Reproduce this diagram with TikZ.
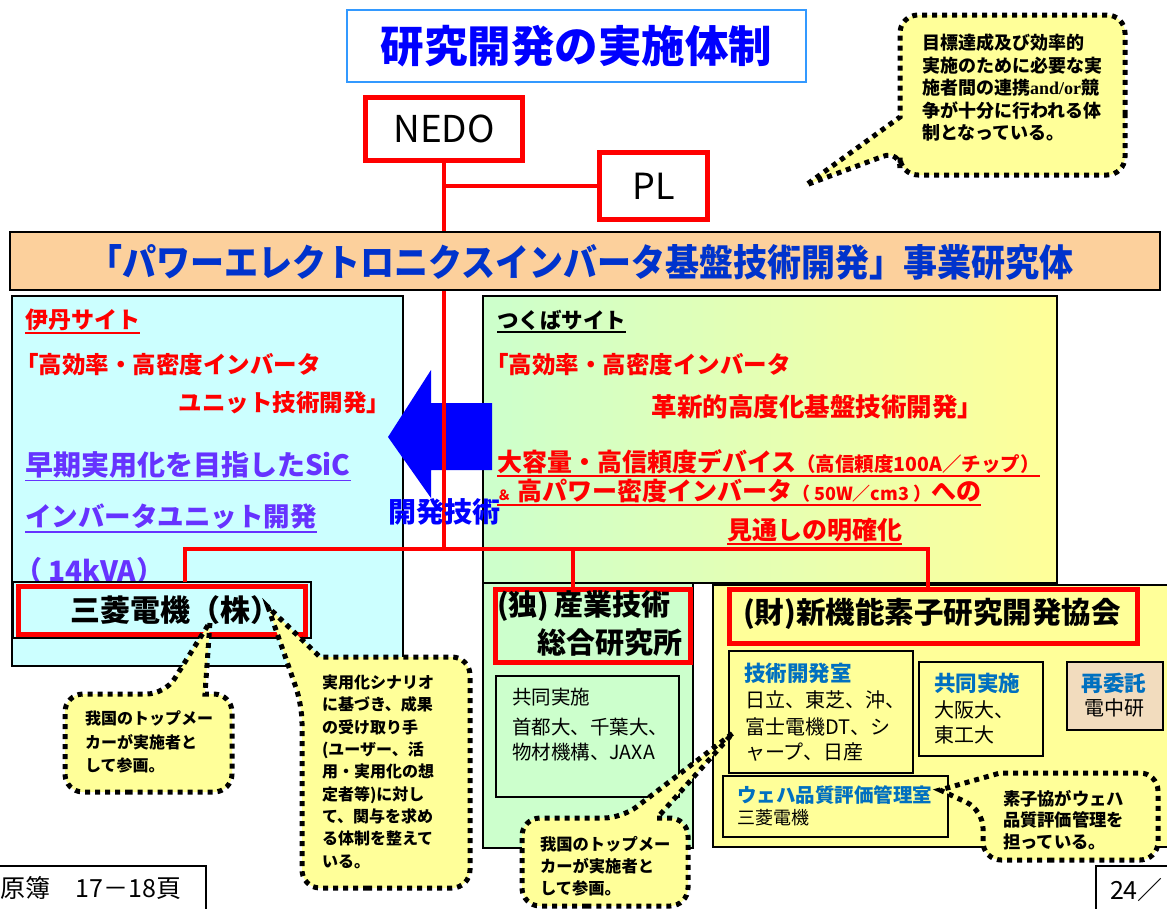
\documentclass[tikz,border=0pt]{standalone}
\usepackage{fontspec}
\setmainfont{Noto Sans CJK JP}
\newfontfamily\latinserif{Liberation Serif}
\newcommand\fsz[2]{\fontsize{#1pt}{#2pt}\selectfont}

\definecolor{cyanbox}{RGB}{204,255,255}
\definecolor{greenbox}{RGB}{204,255,204}
\definecolor{yellowbox}{RGB}{255,255,153}
\definecolor{peach}{RGB}{252,208,156}
\definecolor{calloutfill}{RGB}{255,255,153}
\definecolor{sicviolet}{RGB}{102,51,255}
\definecolor{bannerblue}{RGB}{0,51,204}
\definecolor{roomblue}{RGB}{0,112,192}
\definecolor{titleframe}{RGB}{51,153,255}
\definecolor{titleblue}{RGB}{0,0,255}
\definecolor{arrowblue}{RGB}{0,0,255}
\definecolor{tanfill}{RGB}{242,220,190}

\newcommand\ulnode[2]{\draw[#2, line width=1.6pt] ([yshift=-2pt]#1.south west) -- ([yshift=-2pt]#1.south east);}

\begin{document}
\begin{tikzpicture}[x=1pt,y=-1pt,
  txt/.style={inner sep=0, outer sep=0, anchor=west},
  panel/.style={draw=black, line width=1.2pt, inner sep=0, outer sep=0},
  redbox/.style={draw=red, line width=5pt, inner sep=0, outer sep=0},
  redline/.style={red, line width=4pt},
  callout/.style={fill=calloutfill, draw=black, line width=5pt, dash pattern=on 5pt off 5pt},
  calltext/.style={inner sep=0, outer sep=0, anchor=north west, align=left, font=\bfseries},
  bodytext/.style={txt, font=\fsz{20}{24}},
  roomtitle/.style={txt, text=roomblue, font=\fsz{21.5}{26}\bfseries}]

\path[use as bounding box, fill=white] (0,0) rectangle (1167,908);

% heading
\node[draw=titleframe, line width=1.5pt, minimum width=459, minimum height=72, inner sep=0,
      font=\fsz{43.5}{50}\bfseries, text=titleblue] (title) at (576.5,46) {研究開発の実施体制};

% NEDO and PL
\node[redbox, fill=white, minimum width=157, minimum height=63, font=\fsz{37}{44}] (nedo) at (444,129) {NEDO};
\node[redbox, fill=white, minimum width=108, minimum height=67, font=\fsz{36}{44}] (pl) at (653.5,186) {PL};

% Itami site panel
\node[panel, fill=cyanbox, minimum width=391, minimum height=370] (itami) at (207.5,481) {};
\node[txt, text=red, font=\fsz{23}{28}\bfseries] (itaminame) at (25,320) {伊丹サイト};
\ulnode{itaminame}{red}
\node[txt, text=red, font=\fsz{23.5}{28}\bfseries] (itamigoal1) at (15,365) {「高効率・高密度インバータ};
\node[txt, anchor=east, text=red, font=\fsz{23.5}{28}\bfseries] (itamigoal2) at (390,403) {ユニット技術開発」};
\node[txt, text=sicviolet, font=\fsz{28}{34}\bfseries] (sic1) at (25,465) {早期実用化を目指したSiC};
\ulnode{sic1}{sicviolet}
\node[txt, text=sicviolet, font=\fsz{26.5}{32}\bfseries] (sic2) at (25,517) {インバータユニット開発};
\ulnode{sic2}{sicviolet}
\node[txt, text=sicviolet, font=\fsz{28}{34}\bfseries] (sic3) at (14,571) {（ 14kVA）};

% Tsukuba site panel
\node[panel, left color=greenbox, right color=yellowbox, minimum width=574, minimum height=287] (tsukuba) at (770,439.5) {};
\node[txt, font=\fsz{21.5}{26}\bfseries] (tsukubaname) at (497,320) {つくばサイト};
\ulnode{tsukubaname}{black}
\node[txt, text=red, font=\fsz{23.5}{28}\bfseries] (tk1) at (485,365) {「高効率・高密度インバータ};
\node[txt, anchor=east, text=red, font=\fsz{25.5}{30}\bfseries] (tk2) at (983,407) {革新的高度化基盤技術開発」};
\node[txt, text=red, font=\fsz{25}{30}\bfseries] (tk3) at (497,462) {大容量・高信頼度デバイス{\fsz{19.5}{24}（高信頼度100A／チップ）}};
\ulnode{tk3}{red}
\node[txt, text=red, font=\fsz{25}{30}\bfseries] (tk4) at (497,491) {{\fsz{14}{17}＆}\hspace{6pt}高パワー密度インバータ{\fsz{18}{22}（ 50W／cm3 ）}への};
\ulnode{tk4}{red}
\node[txt, text=red, font=\fsz{25}{30}\bfseries] (tk5) at (727,530) {見通しの明確化};
\ulnode{tk5}{red}

% transfer arrow between the sites
\fill[arrowblue] (492,403) -- (431,403) -- (431,370) -- (388,437) -- (431,498) -- (431,470) -- (492,470) -- cycle;

% Mitsubishi Electric
\node[panel, fill=cyanbox, minimum width=298, minimum height=56] (mitsuframe) at (162,610) {};
\node[redbox, fill=cyanbox, minimum width=287, minimum height=48] (mitsu) at (161.5,610) {};
\node[txt, font=\fsz{30}{36}\bfseries] (mitsutext) at (70,610) {三菱電機（株）};

% AIST
\node[panel, fill=greenbox, minimum width=210, minimum height=265] (aist) at (588,715.5) {};
\node[redbox, fill=greenbox, minimum width=195, minimum height=73] (aistname) at (593,626) {};
\node[txt, font=\fsz{29}{35}\bfseries] (aist1) at (497,606) {(独)\,産業技術};
\node[txt, font=\fsz{29}{35}\bfseries] (aist2) at (537,643) {総合研究所};
\node[panel, minimum width=183, minimum height=121] (aistjoint) at (587.5,736.5) {};
\node[txt, font=\fsz{19.5}{24}] (aj1) at (512,697) {共同実施};
\node[txt, font=\fsz{19.5}{24}] (aj2) at (512,727) {首都大、千葉大、};
\node[txt, font=\fsz{19.5}{24}] (aj3) at (512,752) {物材機構、JAXA};

% R&D Association for Future Electron Devices
\node[panel, fill=yellowbox, minimum width=460, minimum height=262] (zaidan) at (943,716) {};
\node[redbox, fill=yellowbox, minimum width=408, minimum height=54] (zaidanred) at (933.5,616.5) {};
\node[txt, font=\fsz{29.5}{35}\bfseries] (zaidantext) at (743,614) {(財)新機能素子研究開発協会};

\node[panel, minimum width=184, minimum height=122] (gijutsu) at (821,712) {};
\node[roomtitle] (g0) at (744,673) {技術開発室};
\node[bodytext] (g1) at (745,700) {日立、東芝、沖、};
\node[bodytext] (g2) at (745,727) {富士電機DT、シ};
\node[bodytext] (g3) at (745,752) {ャープ、日産};

\node[panel, minimum width=124, minimum height=94] (kyodo) at (981,709) {};
\node[roomtitle] (k0) at (934,683) {共同実施};
\node[bodytext] (k1) at (934,710) {大阪大、};
\node[bodytext] (k2) at (934,735) {東工大};

\node[panel, fill=tanfill, minimum width=96, minimum height=68] (saiitaku) at (1115,696) {};
\node[roomtitle, anchor=center] (s0) at (1114,683) {再委託};
\node[bodytext, anchor=center] (s1) at (1114,708) {電中研};

\node[panel, minimum width=225, minimum height=61] (wafer) at (835.5,806.5) {};
\node[txt, text=roomblue, font=\fsz{19.5}{24}\bfseries] (w0) at (737,795) {ウェハ品質評価管理室};
\node[txt, font=\fsz{18}{22}] (w1) at (737,818) {三菱電機};

% red organisation lines
\coordinate (busL) at (185,549);
\coordinate (busM) at (573,549);
\coordinate (busR) at (928,549);
\draw[redline] (nedo.south) -- (nedo.south |- busL);
\draw[redline] (nedo.south |- pl.west) -- (pl.west);
\draw[redline] (mitsuframe.north -| busL) -- (busL) -- (busR) -- (busR |- zaidanred.north);
\draw[redline] (busM) -- (busM |- aistname.north);

% project banner
\node[panel, fill=peach, minimum width=1150, minimum height=58] (banner) at (585,261) {};
\node[inner sep=0, font=\fsz{34}{40}\bfseries, text=bannerblue] (bannertext) at (581,262)
  {\scalebox{1}[1.1]{「パワーエレクトロニクスインバータ基盤技術開発」事業研究体}};

\node[inner sep=0, font=\fsz{28}{34}\bfseries, text=arrowblue] (devtech) at (444,512) {開発技術};

% speech bubbles
\draw[callout] (1125,95) [rounded corners=18pt] -- (1125,175) -- (900,175) -- (900,150) [sharp corners] -- (806,185) -- (900,117) [rounded corners=18pt] -- (900,15) -- (1125,15) -- cycle;
\node[calltext, font=\fsz{18}{22.5}\bfseries] (noteA) at (922,34)
  {目標達成及び効率的\\実施のために必要な実\\施者間の連携{\latinserif\bfseries and/or}競\\争が十分に行われる体\\制となっている。};

\draw[callout] (148,792) [rounded corners=18pt] -- (65,792) -- (65,694) -- (165,694) [sharp corners] -- (210,622) -- (205,694) [rounded corners=18pt] -- (232,694) -- (232,792) -- cycle;
\node[calltext, font=\fsz{16}{23.5}\bfseries] (noteB) at (85,711)
  {我国のトップメー\\カーが実施者と\\して参画。};

\draw[callout] (386,888) [rounded corners=18pt] -- (302,888) -- (302,705) [sharp corners] -- (268,607) -- (320,657) [rounded corners=18pt] -- (470,657) -- (470,888) -- cycle;
\node[calltext, font=\fsz{16}{22.3}\bfseries] (noteC) at (322,675)
  {実用化シナリオ\\に基づき、成果\\の受け取り手\\(ユーザー、活\\用・実用化の想\\定者等)に対し\\て、関与を求め\\る体制を整えて\\いる。};

\draw[callout] (605,906) [rounded corners=18pt] -- (522,906) -- (522,818) -- (622,818) [sharp corners] -- (733,733) -- (657,818) [rounded corners=18pt] -- (688,818) -- (688,906) -- cycle;
\node[calltext, font=\fsz{16.3}{22}\bfseries] (noteD) at (540,836)
  {我国のトップメー\\カーが実施者と\\して参画。};

\draw[callout] (1070,860) [rounded corners=18pt] -- (983,860) -- (983,810) [sharp corners] -- (940,790) -- (1000,773) [rounded corners=18pt] -- (1158,773) -- (1158,860) -- cycle;
\node[calltext, font=\fsz{17.3}{21.5}\bfseries] (noteE) at (1003,790)
  {素子協がウェハ\\品質評価管理を\\担っている。};

% page references
\draw[line width=1.2pt] (-2,866) -- (206,866) -- (206,912);
\node[txt, font=\fsz{25}{30}] (pageref) at (1,888) {原簿\hspace{1em}17－18頁};
\draw[line width=1.2pt] (1096,912) -- (1096,866) -- (1170,866);
\node[txt, font=\fsz{25}{30}] (pageno) at (1110,890) {24／};
\end{tikzpicture}
\end{document}
